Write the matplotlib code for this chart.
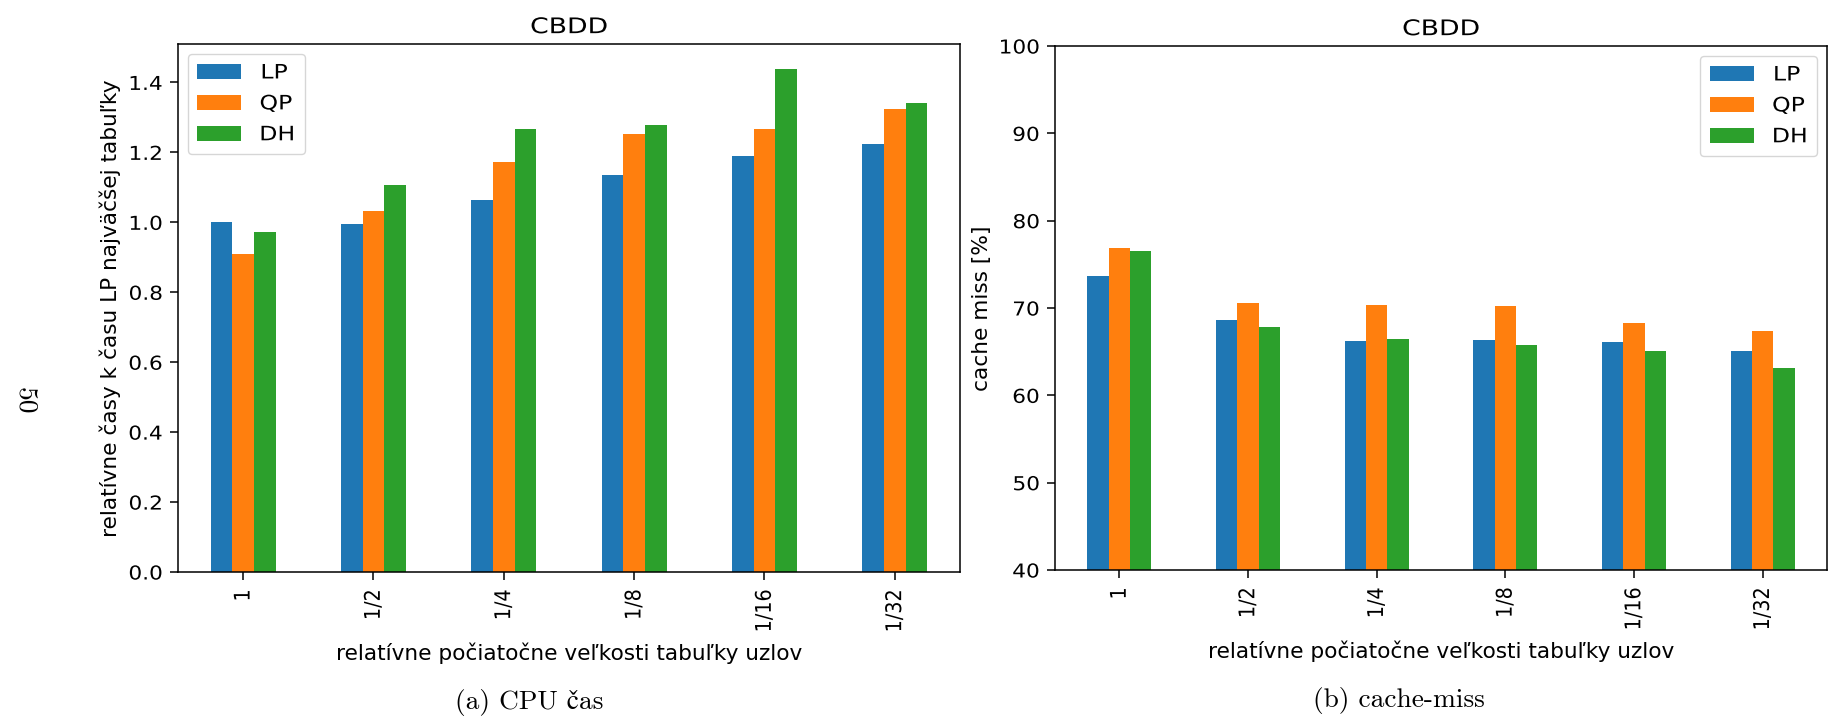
import numpy as np
import matplotlib
matplotlib.use("Agg")
import matplotlib.pyplot as plt
from matplotlib.patheffects import AbstractPathEffect
from matplotlib.transforms import Affine2D

# ---- data -------------------------------------------------------------
sizes = ["1", "1/2", "1/4", "1/8", "1/16", "1/32"]
methods = ["LP", "QP", "DH"]
colors = ["#1f77b4", "#ff7f0e", "#2ca02c"]

cpu_lp = [1.000, 0.996, 1.064, 1.136, 1.190, 1.225]
cpu_qp = [0.909, 1.033, 1.173, 1.253, 1.266, 1.323]
cpu_dh = [0.972, 1.107, 1.267, 1.277, 1.438, 1.340]

miss_lp = [73.65, 68.6, 66.2, 66.35, 66.15, 65.05]
miss_qp = [76.9, 70.55, 70.4, 70.25, 68.25, 67.35]
miss_dh = [76.5, 67.85, 66.5, 65.75, 65.1, 63.1]

title = "CBDD"
xlabel = "relatívne počiatočne veľkosti tabuľky uzlov"
ylabel_cpu = "relatívne časy k času LP najväčšej tabuľky"
ylabel_miss = "cache miss [%]"
caption_a = "(a) CPU čas"
caption_b = "(b) cache-miss"
page_number = "50"

# ---- style ------------------------------------------------------------
W, H = 1831, 720
TICK_FS, TICK_SX = 13.8, 1.13
LEG_FS, LEG_SX = 14.3, 1.19
LABEL_FS = 15.6
TITLE_FS, TITLE_SX = 15.5, 1.24
SERIF = ["cmr10", "STIXGeneral", "DejaVu Serif"]

plt.rcParams.update({
    "font.family": "DejaVu Sans",
    "font.size": TICK_FS,
    "axes.linewidth": 1.1,
    "xtick.major.size": 5.5,
    "ytick.major.size": 5.5,
    "xtick.major.width": 1.1,
    "ytick.major.width": 1.1,
    "xtick.major.pad": 7.0,
    "ytick.major.pad": 5.6,
    "xtick.labelsize": TICK_FS,
    "ytick.labelsize": TICK_FS,
})


class Widen(AbstractPathEffect):
    """Stretch a text path horizontally around a chosen anchor."""

    def __init__(self, sx, anchor="center"):
        super().__init__()
        self.sx = sx
        self.anchor = anchor

    def draw_path(self, renderer, gc, tpath, affine, rgbFace=None):
        bb = tpath.get_extents(affine)
        if self.anchor == "left":
            cx = bb.x0
        elif self.anchor == "right":
            cx = bb.x1
        else:
            cx = 0.5 * (bb.x0 + bb.x1)
        stretch = Affine2D().translate(-cx, 0).scale(self.sx, 1).translate(cx, 0)
        renderer.draw_path(gc, tpath, affine + stretch, rgbFace)


def px_rect(x0, y0, x1, y1):
    return [x0 / W, 1 - y1 / H, (x1 - x0) / W, (y1 - y0) / H]


def panel(ax, series, ylabel, yticks, ylim, legend_loc):
    x = np.arange(len(sizes))
    w = 0.5 / len(series)
    for i, (vals, name, c) in enumerate(zip(series, methods, colors)):
        ax.bar(x + (i - 1) * w, vals, w, color=c, label=name)
    ax.set_xlim(-0.5, len(sizes) - 0.5)
    ax.set_ylim(*ylim)
    ax.set_xticks(x, sizes, rotation=90)
    ax.set_yticks(yticks)
    ax.set_title(title, fontsize=TITLE_FS, pad=7.8)
    ax.set_xlabel(xlabel, fontsize=LABEL_FS, labelpad=7.2)
    ax.set_ylabel(ylabel, fontsize=LABEL_FS, labelpad=8.0)
    leg = ax.legend(loc=legend_loc, fontsize=LEG_FS, handlelength=2.21,
                    handleheight=0.75, handletextpad=1.17, borderpad=0.48,
                    labelspacing=0.6, borderaxespad=0.5)
    for t in ax.get_xticklabels():
        t.set_path_effects([Widen(TICK_SX, "center")])
    for t in ax.get_yticklabels():
        t.set_path_effects([Widen(TICK_SX, "right")])
    for t in leg.get_texts():
        t.set_path_effects([Widen(LEG_SX, "right")])
    ax.title.set_path_effects([Widen(TITLE_SX)])


fig = plt.figure(figsize=(W / 100, H / 100), dpi=100)

ax1 = fig.add_axes(px_rect(178, 44, 960, 572))
cpu_top = max(max(cpu_lp), max(cpu_qp), max(cpu_dh)) * 1.05
panel(ax1, [cpu_lp, cpu_qp, cpu_dh], ylabel_cpu,
      np.round(np.arange(0, 1.41, 0.2), 1), (0, cpu_top), "upper left")

ax2 = fig.add_axes(px_rect(1055, 46, 1827, 570))
panel(ax2, [miss_lp, miss_qp, miss_dh], ylabel_miss,
      np.arange(40, 101, 10), (40, 100), "upper right")

# subfigure captions and page number, set in a serif roman face
fig.text(529 / W, 1 - 702 / H, caption_a, family=SERIF, fontsize=19.7,
         ha="center", va="center")
fig.text(1399 / W, 1 - 700 / H, caption_b, family=SERIF, fontsize=19.7,
         ha="center", va="center")
fig.text(25 / W, 1 - 401 / H, page_number, family=SERIF, fontsize=19.7,
         rotation=-90, ha="center", va="center")

fig.savefig("out.png", dpi=100)
